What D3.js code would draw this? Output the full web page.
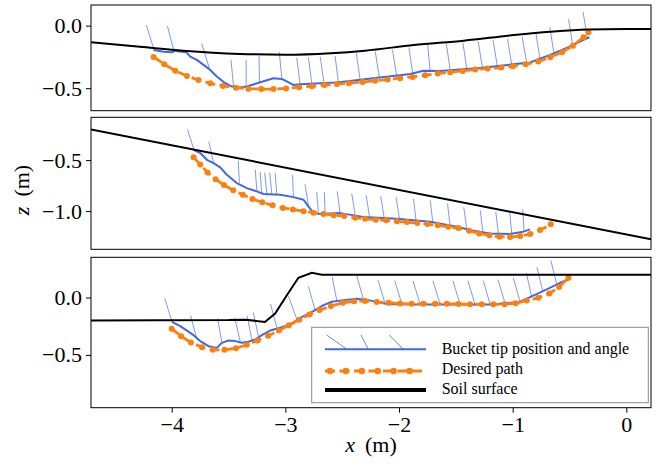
<!DOCTYPE html>
<html>
<head>
<meta charset="utf-8">
<script src="https://cdn.jsdelivr.net/npm/d3@7"></script>
<style>
  html, body { margin: 0; padding: 0; background: #fff; }
  svg { display: block; }
  text { font-family: "Liberation Serif", "Times New Roman", serif; fill: #000; }
</style>
</head>
<body>
<svg id="chart" width="661" height="466"></svg>
<script>
// ---- Shared x-axis ----
const xDomain = [-4.71, 0.217];
const xTicks = [-4, -3, -2, -1, 0];

// ---- Case 1: curved soil surface ----
const soil1X = [-4.71, -4.28, -3.9, -3.4, -3.0, -2.6, -2.3, -1.87, -1.43, -0.99, -0.67, -0.35, 0.0, 0.22];
const soil1Z = [-0.133, -0.168, -0.200, -0.226, -0.232, -0.220, -0.200, -0.155, -0.120, -0.075, -0.048, -0.030, -0.026, -0.026];
const path1X = [-4.16, -4.066, -3.969, -3.866, -3.764, -3.661, -3.55, -3.435, -3.325, -3.213, -3.105, -2.993, -2.879, -2.767, -2.656, -2.547, -2.44, -2.32, -2.21, -2.10, -1.99, -1.88, -1.77, -1.66, -1.55, -1.44, -1.33, -1.22, -1.10, -1.00, -0.885, -0.776, -0.67, -0.565, -0.47, -0.377, -0.333];
const path1Z = [-0.250, -0.308, -0.360, -0.402, -0.435, -0.461, -0.482, -0.496, -0.504, -0.507, -0.507, -0.502, -0.492, -0.484, -0.475, -0.467, -0.460, -0.450, -0.440, -0.431, -0.420, -0.410, -0.396, -0.383, -0.372, -0.362, -0.351, -0.343, -0.335, -0.324, -0.308, -0.287, -0.252, -0.212, -0.160, -0.093, -0.053];
const tip1X = [-4.16, -4.07, -4.0, -3.97, -3.87, -3.837, -3.778, -3.72, -3.661, -3.603, -3.529, -3.47, -3.397, -3.339, -3.22, -3.105, -3.031, -2.929, -2.87, -2.694, -2.547, -2.17, -1.90, -1.785, -1.64, -1.29, -0.85, -0.67, -0.50, -0.377, -0.325];
const tip1Z = [-0.194, -0.208, -0.213, -0.202, -0.213, -0.248, -0.274, -0.314, -0.354, -0.407, -0.460, -0.487, -0.495, -0.487, -0.452, -0.420, -0.426, -0.474, -0.468, -0.460, -0.455, -0.415, -0.386, -0.360, -0.362, -0.338, -0.295, -0.234, -0.168, -0.114, -0.093];
const angle1X = [-4.154, -3.978, -3.667, -3.456, -3.345, -3.228, -3.031, -2.87, -2.767, -2.66, -2.533, -2.342, -2.172, -2.02, -1.879, -1.726, -1.55, -1.404, -1.266, -1.135, -1.008, -0.876, -0.759, -0.636, -0.471, -0.343];
const angle1Z = [-0.197, -0.210, -0.345, -0.487, -0.488, -0.458, -0.424, -0.470, -0.466, -0.460, -0.455, -0.434, -0.418, -0.405, -0.388, -0.362, -0.357, -0.348, -0.338, -0.328, -0.317, -0.300, -0.270, -0.225, -0.160, -0.103];
const angle1Deg = [19, 16, 19, 6, 0, 1, 6, 8, 8, 9, 8, 9, 10, 10, 9, 6, 9, 9, 10, 10, 10, 11, 10, 10, 10, 10];

// ---- Case 2: sloped soil surface ----
const soil2X = [-4.71, 0.217];
const soil2Z = [-0.199, -1.277];
const path2X = [-3.808, -3.749, -3.685, -3.614, -3.54, -3.459, -3.375, -3.29, -3.203, -3.112, -3.022, -2.934, -2.84, -2.753, -2.665, -2.574, -2.483, -2.386, -2.298, -2.204, -2.113, -2.019, -1.931, -1.838, -1.75, -1.659, -1.566, -1.478, -1.383, -1.295, -1.205, -1.117, -1.023, -0.935, -0.847, -0.759, -0.665];
const path2Z = [-0.471, -0.544, -0.621, -0.688, -0.744, -0.796, -0.840, -0.881, -0.914, -0.944, -0.969, -0.985, -1.001, -1.016, -1.028, -1.040, -1.049, -1.066, -1.075, -1.085, -1.091, -1.101, -1.108, -1.118, -1.127, -1.140, -1.154, -1.167, -1.193, -1.219, -1.238, -1.252, -1.255, -1.245, -1.225, -1.186, -1.130];
const tip2X = [-3.808, -3.749, -3.69, -3.632, -3.573, -3.515, -3.427, -3.339, -3.251, -3.192, -3.046, -2.929, -2.84, -2.797, -2.753, -2.694, -2.518, -2.313, -2.019, -1.726, -1.492, -1.346, -1.199, -1.023, -0.906, -0.847];
const tip2Z = [-0.399, -0.431, -0.497, -0.529, -0.572, -0.644, -0.725, -0.775, -0.807, -0.833, -0.840, -0.863, -0.889, -0.954, -1.020, -1.029, -1.020, -1.057, -1.076, -1.105, -1.154, -1.193, -1.219, -1.225, -1.202, -1.180];
const angle2X = [-3.802, -3.632, -3.404, -3.25, -3.207, -3.163, -3.119, -3.075, -2.929, -2.797, -2.709, -2.65, -2.518, -2.386, -2.26, -2.131, -1.996, -1.85, -1.703, -1.551, -1.404, -1.263, -1.126, -1.008, -0.9];
const angle2Z = [-0.405, -0.529, -0.720, -0.807, -0.830, -0.836, -0.837, -0.838, -0.863, -0.950, -1.027, -1.027, -1.020, -1.040, -1.055, -1.066, -1.078, -1.092, -1.108, -1.140, -1.176, -1.205, -1.222, -1.224, -1.200];
const angle2Deg = [16, 11, 3, 4, 4, 5, 5, 4, 2, 8, 4, 2, 7, 8, 8, 8, 8, 6, 6, 6, 7, 6, 6, 5, 3];

// ---- Case 3: step in soil surface ----
const soil3X = [-4.71, -3.50, -3.35, -3.18, -3.09, -2.987, -2.885, -2.767, -2.679, 0.22];
const soil3Z = [-0.200, -0.197, -0.193, -0.213, -0.140, 0.020, 0.172, 0.215, 0.198, 0.198];
const path3X = [-4.0, -3.917, -3.831, -3.734, -3.638, -3.536, -3.435, -3.339, -3.245, -3.151, -3.057, -2.969, -2.876, -2.788, -2.70, -2.60, -2.494, -2.395, -2.298, -2.196, -2.093, -1.991, -1.888, -1.785, -1.683, -1.58, -1.478, -1.375, -1.272, -1.17, -1.073, -0.973, -0.876, -0.774, -0.677, -0.592, -0.51];
const path3Z = [-0.273, -0.337, -0.392, -0.433, -0.456, -0.456, -0.442, -0.412, -0.375, -0.334, -0.288, -0.241, -0.194, -0.148, -0.110, -0.075, -0.046, -0.033, -0.031, -0.040, -0.046, -0.052, -0.055, -0.055, -0.055, -0.055, -0.056, -0.060, -0.060, -0.060, -0.058, -0.050, -0.026, -0.003, 0.035, 0.091, 0.172];
const tip3X = [-3.998, -3.925, -3.866, -3.808, -3.749, -3.676, -3.603, -3.558, -3.5, -3.441, -3.383, -3.325, -3.266, -3.207, -3.134, -3.046, -2.958, -2.87, -2.753, -2.665, -2.591, -2.489, -2.371, -2.269, -2.107, -1.755, -1.17, -0.935, -0.847, -0.70, -0.583, -0.51];
const tip3Z = [-0.212, -0.249, -0.288, -0.328, -0.380, -0.424, -0.439, -0.395, -0.375, -0.380, -0.395, -0.386, -0.366, -0.328, -0.288, -0.264, -0.235, -0.177, -0.119, -0.066, -0.037, -0.023, -0.011, -0.023, -0.058, -0.061, -0.061, -0.037, 0.003, 0.070, 0.128, 0.157];
const angle3X = [-3.998, -3.778, -3.558, -3.397, -3.295, -3.237, -3.075, -2.899, -2.738, -2.547, -2.313, -2.122, -1.975, -1.814, -1.639, -1.463, -1.331, -1.199, -1.067, -0.935, -0.832, -0.735, -0.612];
const angle3Z = [-0.212, -0.366, -0.395, -0.385, -0.370, -0.340, -0.264, -0.190, -0.110, -0.031, -0.017, -0.055, -0.058, -0.060, -0.060, -0.060, -0.060, -0.060, -0.050, -0.037, 0.005, 0.056, 0.113];
const angle3Deg = [17, 15, 10, 13, 11, 12, 15, 20, 16, 11, 16, 17, 17, 17, 17, 17, 17, 16, 17, 16, 13, 14, 14];

// ---- Axis ticks per panel ----
const yDomains = [[-0.68, 0.165], [-1.375, -0.08], [-0.96, 0.35]];
const yTicks = [[0, -0.5], [-0.5, -1.0], [0, -0.5]];

// Legend labels
const legendLabels = ["Bucket tip position and angle", "Desired path", "Soil surface"];

// ---- Styling ----
const BLUE = "#4169e1";
const ORANGE = "#ff7f0e";
const ANGLE_LEN = 0.215;   // drawn length of the bucket-angle indicator (m)
const FONT = 22;

const zip = (xs, zs) => xs.map((v, i) => [v, zs[i]]);

const panels = [
  { soil: zip(soil1X, soil1Z), soilCurve: d3.curveMonotoneX, path: zip(path1X, path1Z), tip: zip(tip1X, tip1Z),
    ang: angle1X.map((v, i) => ({ x: v, z: angle1Z[i], a: angle1Deg[i] })) },
  { soil: zip(soil2X, soil2Z), soilCurve: d3.curveLinear, path: zip(path2X, path2Z), tip: zip(tip2X, tip2Z),
    ang: angle2X.map((v, i) => ({ x: v, z: angle2Z[i], a: angle2Deg[i] })) },
  { soil: zip(soil3X, soil3Z), soilCurve: d3.curveLinear, path: zip(path3X, path3Z), tip: zip(tip3X, tip3Z),
    ang: angle3X.map((v, i) => ({ x: v, z: angle3Z[i], a: angle3Deg[i] })) }
];

const svg = d3.select("#chart");
const left = 91, right = 651;
const bands = [[5, 110.7], [117.3, 249.3], [257.3, 407.7]];

const x = d3.scaleLinear().domain(xDomain).range([left, right]);

panels.forEach((p, k) => {
  const [top, bottom] = bands[k];
  const y = d3.scaleLinear().domain(yDomains[k]).range([bottom, top]);
  const g = svg.append("g");

  const clipId = "clip" + k;
  svg.append("clipPath").attr("id", clipId)
    .append("rect").attr("x", left).attr("y", top).attr("width", right - left).attr("height", bottom - top);
  const plot = g.append("g").attr("clip-path", `url(#${clipId})`);

  // bucket angle indicators
  plot.append("g").selectAll("line").data(p.ang).join("line")
    .attr("x1", d => x(d.x)).attr("y1", d => y(d.z))
    .attr("x2", d => x(d.x - ANGLE_LEN * Math.sin(d.a * Math.PI / 180)))
    .attr("y2", d => y(d.z + ANGLE_LEN * Math.cos(d.a * Math.PI / 180)))
    .attr("stroke", BLUE).attr("stroke-width", 0.8).attr("stroke-opacity", 0.85);

  const line = d3.line().x(d => x(d[0])).y(d => y(d[1]));

  // measured bucket tip
  plot.append("path").datum(p.tip).attr("d", line)
    .attr("fill", "none").attr("stroke", BLUE).attr("stroke-width", 2).attr("stroke-linejoin", "round");

  // desired path
  plot.append("path").datum(p.path).attr("d", line)
    .attr("fill", "none").attr("stroke", ORANGE).attr("stroke-width", 2.8).attr("stroke-dasharray", "10,4.5");
  plot.append("g").selectAll("circle").data(p.path).join("circle")
    .attr("cx", d => x(d[0])).attr("cy", d => y(d[1])).attr("r", 3).attr("fill", ORANGE);

  // soil surface
  plot.append("path").datum(p.soil).attr("d", d3.line().curve(p.soilCurve).x(d => x(d[0])).y(d => y(d[1])))
    .attr("fill", "none").attr("stroke", "#000").attr("stroke-width", 2);

  // frame
  g.append("rect").attr("x", left).attr("y", top).attr("width", right - left).attr("height", bottom - top)
    .attr("fill", "none").attr("stroke", "#000").attr("stroke-width", 1);

  // y axis
  const ya = g.append("g").attr("transform", `translate(${left},0)`)
    .call(d3.axisLeft(y).tickValues(yTicks[k]).tickSize(5).tickPadding(4).tickFormat(d3.format(".1f")));
  ya.select(".domain").remove();
  ya.selectAll("text").style("font-size", FONT + "px").style("font-family", "'Liberation Serif', serif");
  ya.selectAll("line").attr("stroke", "#000");

  if (k === 2) {
    const xa = g.append("g").attr("transform", `translate(0,${bottom})`)
      .call(d3.axisBottom(x).tickValues(xTicks).tickSize(5).tickPadding(4).tickFormat(d3.format("d")));
    xa.select(".domain").remove();
    xa.selectAll("text").style("font-size", FONT + "px").style("font-family", "'Liberation Serif', serif");
  }
});

// axis titles
const xt = svg.append("text").attr("x", (left + right) / 2).attr("y", 452)
  .attr("text-anchor", "middle").style("font-size", FONT + "px");
xt.append("tspan").style("font-style", "italic").text("x");
xt.append("tspan").attr("dx", 10).text("(m)");

const yt = svg.append("text").attr("transform", "translate(28.5,190) rotate(-90)")
  .attr("text-anchor", "middle").style("font-size", FONT + "px");
yt.append("tspan").style("font-style", "italic").text("z");
yt.append("tspan").attr("dx", 10).text("(m)");

// legend
const lg = svg.append("g").attr("transform", "translate(311.7,327.3)");
lg.append("rect").attr("width", 336.6).attr("height", 75.4)
  .attr("fill", "#fff").attr("stroke", "#8a8a8a").attr("stroke-width", 1);
const hx0 = 13.3, hx1 = 114.3;
// bucket tip handle
lg.append("line").attr("x1", hx0).attr("x2", hx1).attr("y1", 22).attr("y2", 22)
  .attr("stroke", BLUE).attr("stroke-width", 2);
[[15, 35], [49.3, 56.6], [77.6, 91.6]].forEach(([a, b]) => {
  lg.append("line").attr("x1", a).attr("y1", 7.7).attr("x2", b).attr("y2", 22)
    .attr("stroke", BLUE).attr("stroke-width", 0.8);
});
// desired path handle
lg.append("line").attr("x1", hx0).attr("x2", hx1).attr("y1", 43.7).attr("y2", 43.7)
  .attr("stroke", ORANGE).attr("stroke-width", 2.8).attr("stroke-dasharray", "10,4.5");
d3.range(6).forEach(i => {
  lg.append("circle").attr("cx", 18.3 + i * 15.9).attr("cy", 43.7).attr("r", 3.3).attr("fill", ORANGE);
});
// soil surface handle
lg.append("line").attr("x1", hx0).attr("x2", hx1).attr("y1", 62.7).attr("y2", 62.7)
  .attr("stroke", "#000").attr("stroke-width", 4);
lg.selectAll("text.lab").data(legendLabels).join("text").attr("class", "lab")
  .attr("x", 130).attr("y", (d, i) => 26.7 + i * 20).style("font-size", "16px").text(d => d);
</script>
</body>
</html>
